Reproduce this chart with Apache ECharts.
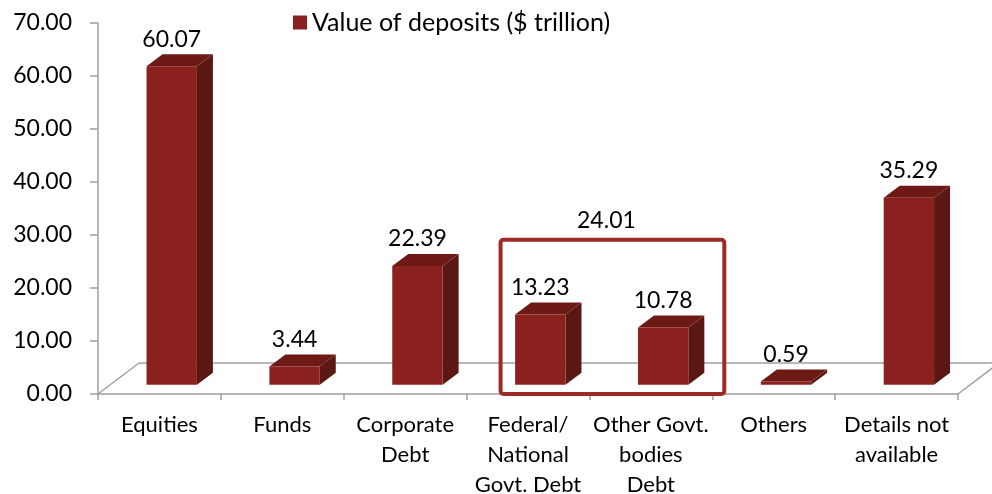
<!DOCTYPE html>
<html>
<head>
<meta charset="utf-8">
<script src="https://cdn.jsdelivr.net/npm/echarts@6/dist/echarts.min.js"></script>
<style>
  html, body { margin: 0; padding: 0; background: #fff; }
  #main { width: 992px; height: 494px; }
</style>
</head>
<body>
<div id="main"></div>
<script>
// 数据
var categories = ['Equities', 'Funds', 'Corporate\nDebt', 'Federal/\nNational\nGovt. Debt',
                  'Other Govt.\nbodies\nDebt', 'Others', 'Details not\navailable'];
var values = [60.07, 3.44, 22.39, 13.23, 10.78, 0.59, 35.29];
var seriesName = 'Value of deposits ($ trillion)';
// 方框圈出的两项及其合计
var groupFrom = 3, groupTo = 4;
var groupTotal = 24.01;

var FONT = 'Lato';
var DEPTH_X = 41, DEPTH_Y = 31;      // 底面进深
var BAR_DX = 16, BAR_DY = 12;        // 柱体进深
var FRONT = '#8b211e', SIDE = '#5a1714', TOP = '#6d1a17';

var myChart = echarts.init(document.getElementById('main'));

// 底面
function renderFloor(params, api) {
    var cs = params.coordSys;
    var x0 = cs.x, x1 = cs.x + cs.width, y = cs.y + cs.height;
    var st = { stroke: '#a0a0a0', lineWidth: 1.5, fill: null };
    return {
        type: 'group',
        children: [
            { type: 'line', shape: { x1: x0, y1: y, x2: x0 + DEPTH_X, y2: y - DEPTH_Y }, style: st },
            { type: 'line', shape: { x1: x0 + DEPTH_X, y1: y - DEPTH_Y, x2: x1 + DEPTH_X, y2: y - DEPTH_Y }, style: st },
            { type: 'line', shape: { x1: x1, y1: y, x2: x1 + DEPTH_X, y2: y - DEPTH_Y }, style: st }
        ]
    };
}

// 立体柱
function renderBar(params, api) {
    var idx = api.value(0), v = api.value(1);
    var base = api.coord([idx, 0]);
    var top = api.coord([idx, v]);
    var band = api.size([1, 0])[0];
    var w = band * 0.41;
    var x0 = base[0] - w / 2 + DEPTH_X * 0.3;
    var y0 = base[1] - DEPTH_Y * 0.3;
    var yT = top[1] - DEPTH_Y * 0.3;
    return {
        type: 'group',
        children: [
            { type: 'polygon', shape: { points: [[x0 + w, y0], [x0 + w + BAR_DX, y0 - BAR_DY], [x0 + w + BAR_DX, yT - BAR_DY], [x0 + w, yT]] },
              style: { fill: SIDE } },
            { type: 'polygon', shape: { points: [[x0, yT], [x0 + BAR_DX, yT - BAR_DY], [x0 + w + BAR_DX, yT - BAR_DY], [x0 + w, yT]] },
              style: { fill: TOP } },
            { type: 'rect', shape: { x: x0, y: yT, width: w, height: y0 - yT },
              style: { fill: FRONT } },
            { type: 'text', x: x0 + w / 2, y: yT - BAR_DY - 15,
              style: { text: v.toFixed(2), align: 'center', verticalAlign: 'middle',
                       fontSize: 23, fontFamily: FONT, fill: '#000' } }
        ]
    };
}

// 合计方框
function renderGroup(params, api) {
    var a = api.coord([api.value(0), 0]);
    var b = api.coord([api.value(1), 0]);
    var t = api.coord([api.value(0), api.value(2)]);
    var band = api.size([1, 0])[0];
    var left = a[0] - band / 2 + 34;
    var right = b[0] + band / 2 + 12;
    var topY = t[1] - 27;
    return {
        type: 'group',
        children: [
            { type: 'rect', shape: { x: left, y: topY, width: right - left, height: a[1] - topY, r: 3 },
              style: { fill: null, stroke: '#9c2a26', lineWidth: 4 } },
            { type: 'text', x: (left + right) / 2 - 6, y: topY - 19,
              style: { text: api.value(2).toFixed(2), align: 'center', verticalAlign: 'middle',
                       fontSize: 23, fontFamily: FONT, fill: '#000' } }
        ]
    };
}

var barData = values.map(function (v, i) { return [i, v]; });

var option = {
    animation: false,
    color: [FRONT],
    legend: {
        data: [seriesName],
        left: 293,
        top: 10,
        padding: 0,
        icon: 'rect',
        itemWidth: 14,
        itemHeight: 14,
        itemGap: 6,
        textStyle: { fontSize: 25, fontFamily: FONT, color: '#000' }
    },
    grid: {
        left: 98,
        top: 23,
        width: 860,
        height: 371,
        outerBoundsMode: 'none'
    },
    xAxis: {
        type: 'category',
        data: categories,
        axisLine: { lineStyle: { color: '#a0a0a0', width: 1.5 } },
        axisTick: { show: true, length: 6, lineStyle: { color: '#a0a0a0', width: 1.5 } },
        axisLabel: { fontSize: 22, fontFamily: FONT, color: '#000', lineHeight: 30, margin: 16, interval: 0 },
        splitLine: { show: false }
    },
    yAxis: {
        type: 'value',
        min: 0,
        max: 70,
        interval: 10,
        axisLine: { show: true, lineStyle: { color: '#a0a0a0', width: 1.5 } },
        axisTick: { show: true, length: 8, lineStyle: { color: '#a0a0a0', width: 1.5 } },
        axisLabel: {
            fontSize: 23, fontFamily: FONT, color: '#000', margin: 26,
            formatter: function (v) { return v.toFixed(2); }
        },
        splitLine: { show: false }
    },
    series: [
        {
            name: 'floor',
            type: 'custom',
            renderItem: renderFloor,
            data: [[0, 0]],
            clip: false,
            silent: true,
            z: 1
        },
        {
            name: seriesName,
            type: 'custom',
            renderItem: renderBar,
            data: barData,
            encode: { x: 0, y: 1 },
            itemStyle: { color: FRONT },
            clip: false,
            z: 2
        },
        {
            name: 'group',
            type: 'custom',
            renderItem: renderGroup,
            data: [[groupFrom, groupTo, groupTotal]],
            encode: { x: 0, y: 2 },
            clip: false,
            silent: true,
            z: 3
        }
    ]
};

myChart.setOption(option);
</script>
</body>
</html>
